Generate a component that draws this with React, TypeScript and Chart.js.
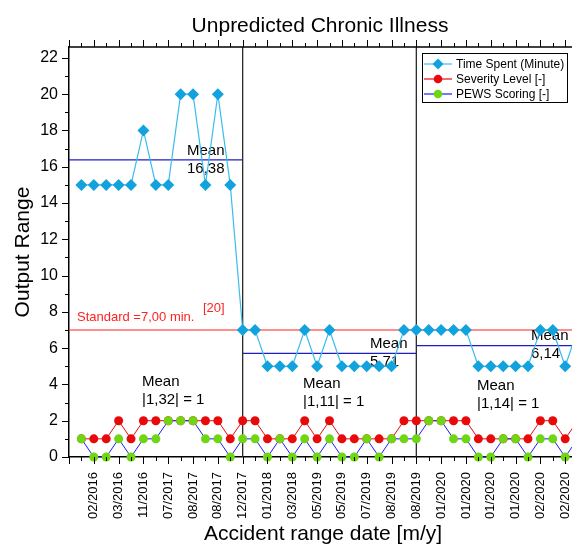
import React, { useEffect, useRef } from 'react';
import { Chart, registerables } from 'chart.js';

Chart.register(...registerables);

const FONT = "'Liberation Sans', Arial, Helvetica, sans-serif";

// Tick labels at odd category indices 1,3,...,39
const tickIndices = [1, 3, 5, 7, 9, 11, 13, 15, 17, 19, 21, 23, 25, 27, 29, 31, 33, 35, 37, 39];
const tickLabels = [
  '02/2016', '03/2016', '11/2016', '07/2017', '08/2017', '08/2017', '12/2017', '01/2018',
  '03/2018', '05/2019', '05/2019', '07/2019', '08/2019', '08/2019', '01/2020', '01/2020',
  '01/2020', '01/2020', '02/2020', '02/2020',
];

const timeSpent = [
  15, 15, 15, 15, 15, 18, 15, 15, 20, 20, 15, 20, 15,
  7, 7, 5, 5, 5, 7, 5, 7, 5, 5, 5, 5, 5, 7,
  7, 7, 7, 7, 7, 5, 5, 5, 5, 5, 7, 7, 5, 7,
];
const severityLevel = [
  1, 1, 1, 2, 1, 2, 2, 2, 2, 2, 2, 2, 1,
  2, 2, 1, 1, 1, 2, 1, 2, 1, 1, 1, 1, 1, 2,
  2, 2, 2, 2, 2, 1, 1, 1, 1, 1, 2, 2, 1, 2,
];
const pewsScoring = [
  1, 0, 0, 1, 0, 1, 1, 2, 2, 2, 1, 1, 0,
  1, 1, 0, 1, 0, 1, 0, 1, 0, 0, 1, 0, 1, 1,
  1, 2, 2, 1, 1, 0, 0, 1, 1, 0, 1, 1, 0, 1,
];

const segmentBounds = [-1, 13, 27, 41];
const segmentMeans = [16.38, 5.71, 6.14];
const standardValue = 7;
const separators = [13, 27];

const seriesNames = ['Time Spent (Minute)', 'Severity Level [-]', 'PEWS Scoring [-]'];
const yTicks = [0, 2, 4, 6, 8, 10, 12, 14, 16, 18, 20, 22];

const C_TIME_LINE = '#3bbcf0';
const C_TIME_PT = '#12a3de';
const C_SEV = '#e80a0a';
const C_PEWS_LINE = '#1a1aff';
const C_PEWS_PT = '#6fd614';
const C_MEAN = '#1c1cc8';
const C_STD = '#ff2222';

function diamond(ctx: CanvasRenderingContext2D, x: number, y: number, r: number, color: string) {
  ctx.beginPath();
  ctx.moveTo(x, y - r);
  ctx.lineTo(x + r, y);
  ctx.lineTo(x, y + r);
  ctx.lineTo(x - r, y);
  ctx.closePath();
  ctx.fillStyle = color;
  ctx.fill();
}
function circle(ctx: CanvasRenderingContext2D, x: number, y: number, r: number, color: string) {
  ctx.beginPath();
  ctx.arc(x, y, r, 0, Math.PI * 2);
  ctx.fillStyle = color;
  ctx.fill();
}
function seg(ctx: CanvasRenderingContext2D, x1: number, y1: number, x2: number, y2: number) {
  ctx.beginPath();
  ctx.moveTo(x1, y1);
  ctx.lineTo(x2, y2);
  ctx.stroke();
}

const decorPlugin = {
  id: 'decor',
  beforeDatasetsDraw(chart: any) {
    const { ctx, chartArea: a, scales } = chart;
    const x = scales.x;
    const y = scales.y;
    ctx.save();
    // standard line
    ctx.strokeStyle = C_STD;
    ctx.lineWidth = 1.2;
    const ys = y.getPixelForValue(standardValue);
    seg(ctx, a.left, ys, a.right, ys);
    // mean lines
    ctx.strokeStyle = C_MEAN;
    ctx.lineWidth = 1.2;
    segmentMeans.forEach((m, i) => {
      const ym = y.getPixelForValue(m);
      seg(ctx, x.getPixelForValue(segmentBounds[i]), ym, x.getPixelForValue(segmentBounds[i + 1]), ym);
    });
    // separators
    ctx.strokeStyle = '#2a2a2a';
    ctx.lineWidth = 1.3;
    separators.forEach((s) => {
      const xs = x.getPixelForValue(s);
      seg(ctx, xs, a.bottom, xs, a.top);
    });
    // texts
    ctx.fillStyle = '#000';
    ctx.font = `15px ${FONT}`;
    ctx.textAlign = 'left';
    ctx.textBaseline = 'alphabetic';
    const notes: [string, string, number, number][] = [
      ['Mean', '16,38', 187, 155],
      ['Mean', '5,71', 370, 348],
      ['Mean', '6,14', 531, 340],
      ['Mean', '|1,32| = 1', 142, 386],
      ['Mean', '|1,11| = 1', 303, 388],
      ['Mean', '|1,14| = 1', 477, 390],
    ];
    notes.forEach(([l1, l2, nx, ny]) => {
      ctx.fillText(l1, nx, ny);
      ctx.fillText(l2, nx, ny + 18);
    });
    ctx.fillStyle = C_STD;
    ctx.font = `13px ${FONT}`;
    ctx.fillText('Standard =7,00 min.', 77, 321);
    ctx.fillText('[20]', 203, 312);
    ctx.restore();
  },
  afterDraw(chart: any) {
    const { ctx, chartArea: a, scales } = chart;
    const x = scales.x;
    const y = scales.y;
    ctx.save();
    ctx.strokeStyle = '#000';
    ctx.lineWidth = 1;
    for (let i = -1; i <= 41; i++) {
      const X = Math.round(x.getPixelForValue(i)) + 0.5;
      const len = i % 2 !== 0 ? 7 : 4;
      seg(ctx, X, a.bottom, X, a.bottom + len);
      seg(ctx, X, a.top, X, a.top - len);
    }
    for (let v = 0; v <= 22; v++) {
      const Y = Math.round(y.getPixelForValue(v)) + 0.5;
      const len = v % 2 === 0 ? 7 : 4;
      seg(ctx, a.left - len, Y, a.left, Y);
    }
    ctx.lineWidth = 1.5;
    seg(ctx, a.left, a.top, a.right, a.top);

    // legend
    const lx = 422, ly = 53, lw = 145, lh = 49;
    ctx.lineWidth = 1;
    ctx.strokeStyle = '#000';
    ctx.fillStyle = '#fff';
    ctx.fillRect(lx, ly, lw, lh);
    ctx.strokeRect(lx + 0.5, ly + 0.5, lw, lh);
    const rows = [
      { line: C_TIME_LINE, pt: C_TIME_PT, kind: 'd' },
      { line: C_SEV, pt: C_SEV, kind: 'c' },
      { line: C_PEWS_LINE, pt: C_PEWS_PT, kind: 'c' },
    ];
    ctx.font = `12px ${FONT}`;
    ctx.textBaseline = 'middle';
    ctx.textAlign = 'left';
    rows.forEach((r, i) => {
      const ry = ly + 11 + i * 15;
      ctx.strokeStyle = r.line;
      ctx.lineWidth = 1.2;
      seg(ctx, lx + 2, ry, lx + 30, ry);
      if (r.kind === 'd') diamond(ctx, lx + 16, ry, 5.5, r.pt);
      else circle(ctx, lx + 16, ry, 4.3, r.pt);
      ctx.fillStyle = '#000';
      ctx.fillText(seriesNames[i], lx + 34, ry + 0.5);
    });

    // titles
    ctx.fillStyle = '#000';
    ctx.font = `21px ${FONT}`;
    ctx.textAlign = 'center';
    ctx.textBaseline = 'alphabetic';
    ctx.fillText('Unpredicted Chronic Illness', 320, 32);
    ctx.fillText('Accident range date [m/y]', 323, 540);
    ctx.save();
    ctx.translate(29, (a.top + a.bottom) / 2);
    ctx.rotate(-Math.PI / 2);
    ctx.fillText('Output Range', 0, 0);
    ctx.restore();
    ctx.restore();
  },
};

export default function App() {
  const ref = useRef<HTMLCanvasElement>(null);
  useEffect(() => {
    const toXY = (arr: number[]) => arr.map((v, i) => ({ x: i, y: v }));
    const chart = new Chart(ref.current as HTMLCanvasElement, {
      type: 'line',
      data: {
        datasets: [
          {
            label: seriesNames[0],
            data: toXY(timeSpent),
            borderColor: C_TIME_LINE,
            borderWidth: 1.2,
            pointStyle: 'rectRot',
            pointRadius: 6,
            pointBackgroundColor: C_TIME_PT,
            pointBorderColor: C_TIME_PT,
            pointBorderWidth: 0,
            tension: 0,
            clip: false as any,
            order: 2,
          },
          {
            label: seriesNames[1],
            data: toXY(severityLevel),
            borderColor: C_SEV,
            borderWidth: 1,
            pointStyle: 'circle',
            pointRadius: 4.5,
            pointBackgroundColor: C_SEV,
            pointBorderColor: C_SEV,
            pointBorderWidth: 0,
            tension: 0,
            clip: false as any,
            order: 1,
          },
          {
            label: seriesNames[2],
            data: toXY(pewsScoring),
            borderColor: C_PEWS_LINE,
            borderWidth: 1,
            pointStyle: 'circle',
            pointRadius: 4.5,
            pointBackgroundColor: C_PEWS_PT,
            pointBorderColor: C_PEWS_PT,
            pointBorderWidth: 0,
            tension: 0,
            clip: false as any,
            order: 0,
          },
        ],
      },
      options: {
        responsive: false,
        maintainAspectRatio: false,
        devicePixelRatio: 1,
        animation: false,
        layout: { padding: { left: 0, top: 47, right: 10, bottom: 0 } },
        plugins: {
          legend: { display: false },
          tooltip: { enabled: false },
          title: { display: false },
        },
        scales: {
          x: {
            type: 'linear',
            min: -1,
            max: 41,
            afterBuildTicks: (s: any) => {
              s.ticks = tickIndices.map((v) => ({ value: v }));
            },
            afterFit: (s: any) => {
              s.height = 87;
            },
            ticks: {
              autoSkip: false,
              minRotation: 90,
              maxRotation: 90,
              padding: 8,
              color: '#000',
              font: { family: FONT, size: 13 },
              callback: (v: any) => {
                const k = tickIndices.indexOf(Number(v));
                return k >= 0 ? tickLabels[k] : '';
              },
            },
            grid: { display: true, drawOnChartArea: false, color: 'transparent', tickLength: 7 },
            border: { display: true, color: '#000', width: 1.5 },
          },
          y: {
            type: 'linear',
            min: 0,
            max: 22.6,
            afterBuildTicks: (s: any) => {
              s.ticks = yTicks.map((v) => ({ value: v }));
            },
            afterFit: (s: any) => {
              s.width = 69;
            },
            ticks: {
              padding: 4,
              color: '#000',
              font: { family: FONT, size: 16 },
            },
            grid: { display: true, drawOnChartArea: false, color: 'transparent', tickLength: 7 },
            border: { display: true, color: '#000', width: 1.5 },
          },
        },
      },
      plugins: [decorPlugin],
    } as any);
    return () => chart.destroy();
  }, []);
  return (
    <div
      style={{
        position: 'fixed',
        left: 0,
        top: 0,
        width: 572,
        height: 544,
        overflow: 'hidden',
        background: '#fff',
      }}
    >
      <canvas ref={ref} width={600} height={544} style={{ display: 'block', width: 600, height: 544 }} />
    </div>
  );
}
